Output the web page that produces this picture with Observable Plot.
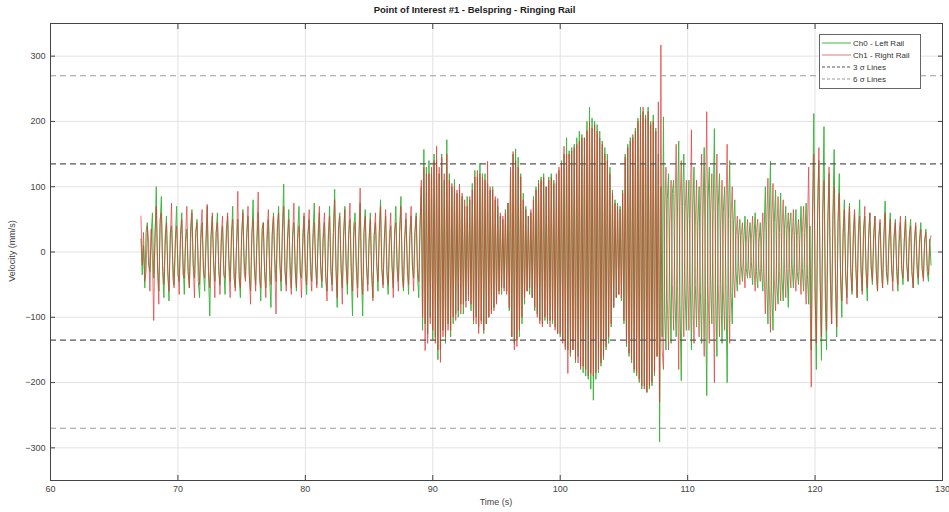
<!DOCTYPE html>
<html><head><meta charset="utf-8">
<script src="https://cdn.jsdelivr.net/npm/d3@7"></script>
<script src="https://cdn.jsdelivr.net/npm/@observablehq/plot@0.6"></script>
<style>
body{margin:0;background:#fff;font-family:"Liberation Sans",Arial,sans-serif}
#wrap{position:relative;width:949px;height:512px;overflow:hidden}
#title{position:absolute;left:0;width:949px;top:4px;text-align:center;font-weight:bold;font-size:9.5px;color:#222}
#xlabel{position:absolute;left:0;width:992px;top:497px;text-align:center;font-size:9px;color:#444}
#ylabel{position:absolute;left:12px;top:251px;font-size:9px;color:#444;transform:translate(-50%,-50%) rotate(-90deg);white-space:nowrap}
#legend{position:absolute;left:819px;top:34px;width:100px;height:53px;border:1px solid #666;background:#fff}
</style></head><body><div id="wrap"><div id="title"></div><div id="xlabel"></div><div id="ylabel"></div><div id="legend"></div></div>
<script>
const chartTitle = "Point of Interest #1 - Belspring - Ringing Rail";
const xLabel = "Time (s)";
const yLabel = "Velocity (mm/s)";
const t0 = 67.1, dt = 0.1;
const ch0 = [
20,-35,10,-55,30,45,-20,-30,25,60,
-40,15,100,-20,-60,40,85,-30,-70,10,
55,-25,-75,30,40,-15,-50,20,70,-35,
-45,25,60,-10,-65,15,35,-30,-55,40,
65,-20,-40,30,50,-45,-70,20,45,-25,
-60,10,70,-35,-98,25,55,-15,-45,30,
60,-30,-50,15,40,-25,-65,35,55,-10,
-45,20,70,-40,-55,10,50,-30,-70,25,
65,-15,-40,30,55,-35,-60,20,80,-25,
-50,15,60,-20,-75,35,45,-30,-55,20,
50,-40,-85,25,60,-10,-45,30,70,-20,
-60,35,104,-30,-50,20,65,-15,-55,25,
45,-20,-60,30,70,-35,-40,10,55,-30,
-65,25,50,-15,-45,30,75,-20,-50,15,
60,-25,-55,20,45,-40,-60,15,70,-30,
-50,30,96,-20,-85,35,60,-25,-55,20,
70,-15,-65,25,50,-30,-98,40,60,-20,
-55,20,75,-35,-98,30,65,-20,-50,15,
60,-30,-70,25,45,-15,-60,30,80,-25,
-50,20,55,-30,-65,15,40,-20,-55,25,
70,-20,-45,30,85,-35,-60,20,50,-15,
-65,25,55,-20,-40,30,60,-35,-70,40,
100,-120,157,-110,130,-125,140,-100,120,-135,
150,-130,140,-165,120,-150,150,-120,110,-140,
172,-110,120,-130,100,-110,111,-95,90,-100,
95,-80,85,-95,70,-75,85,-65,80,-90,
105,-110,125,-100,115,-115,136,-105,120,-125,
120,-110,105,-100,95,-90,100,-85,80,-75,
70,-60,55,-65,50,-55,65,-60,75,-90,
120,-130,150,-140,158,-135,145,-130,120,-110,
90,-80,70,-60,55,-65,60,-70,85,-90,
100,-95,110,-105,115,-110,120,-105,100,-110,
115,-105,120,-110,110,-115,105,-125,125,-130,
140,-135,150,-145,175,-150,155,-160,160,-150,
165,-170,175,-160,185,-175,180,-185,175,-190,
200,-195,222,-210,205,-227,200,-195,195,-185,
185,-175,170,-165,160,-150,150,-140,130,-115,
95,-85,80,-70,75,-65,70,-75,95,-110,
150,-145,165,-160,175,-170,180,-185,190,-190,
205,-200,222,-210,215,-205,210,-215,222,-210,
200,-205,210,-190,190,-160,150,-291,100,-130,
207,-90,-150,80,120,-60,-140,90,110,-70,
-130,60,170,-80,-197,70,150,-60,-120,50,
110,-40,-150,60,130,-50,-115,40,100,-60,
-140,50,160,-70,-220,80,130,-40,-110,60,
189,-60,-160,70,120,-50,-140,60,100,-40,
-200,50,140,-60,-110,40,80,-30,-60,25,
50,-20,-45,15,55,-25,-40,20,45,-15,
-50,20,60,-30,-55,15,45,-25,-60,30,
100,-40,-110,50,139,-60,-120,45,95,-50,
-80,30,90,-40,-75,35,70,-25,-85,40,
60,-20,-55,25,65,-30,-50,20,70,-25,
-60,30,75,-35,-80,40,-150,60,212,-50,
-180,70,140,-50,-166,60,192,-70,-150,50,
120,-40,-110,60,157,-50,-130,45,120,-40,
-100,30,80,-35,-70,25,75,-30,-65,20,
60,-25,-70,30,80,-20,-60,35,55,-30,
-75,25,60,-20,-50,30,55,-25,-60,20,
45,-20,-55,25,78,-30,-50,20,60,-25,
-45,20,50,-30,-60,15,45,-25,-50,20,
55,-20,-45,25,50,-30,-55,15,40,-25,
-50,20,45,-25,-40,15,35,-30,-45,20,-20
];
const ch1 = [
55,-20,30,-45,-30,40,15,-60,35,-10,
-105,30,70,-25,-80,50,60,-20,-50,25,
45,-30,-60,20,75,-40,-55,15,40,-20,
-65,20,50,-35,-40,25,70,-30,-55,15,
60,-25,-70,30,45,-15,-50,35,65,-30,
-40,20,73,-30,-55,25,60,-20,-70,30,
45,-15,-65,25,55,-35,-40,20,60,-25,
-70,30,50,-20,-60,15,93,-40,-55,25,
60,-30,-45,20,70,-35,-80,30,50,-20,
-60,25,92,-40,-55,20,45,-30,-70,35,
65,-20,-50,30,55,-25,-95,40,60,-15,
-45,30,70,-25,-60,20,50,-35,-65,25,
75,-30,-55,20,40,-25,-70,30,60,-20,
-50,25,65,-30,-60,20,45,-15,-55,30,
70,-20,-45,30,60,-35,-75,25,55,-20,
-60,30,80,-25,-70,35,55,-20,-80,30,
65,-25,-50,30,75,-20,-60,25,45,-30,
-70,20,98,-35,-65,30,55,-25,-60,20,
50,-30,-75,25,60,-20,-45,30,70,-25,
-55,20,65,-30,-50,25,60,-20,-70,30,
45,-25,-60,30,70,-20,-55,25,60,-30,
-50,25,70,-20,-60,30,55,-25,-45,40,
110,-100,130,-151,120,-140,120,-110,130,-120,
140,-140,162,-150,130,-169,145,-130,120,-130,
150,-120,110,-120,105,-100,100,-105,95,-90,
104,-95,90,-80,80,-85,70,-75,85,-80,
95,-105,115,-110,125,-125,120,-110,115,-120,
110,-110,139,-100,100,-95,95,-90,85,-80,
82,-65,60,-55,55,-60,60,-65,75,-85,
130,-130,154,-150,140,-145,130,-120,115,-100,
80,-70,65,-60,55,-55,65,-70,80,-85,
95,-100,105,-110,110,-115,115,-100,100,-105,
110,-115,115,-105,105,-120,120,-125,130,-125,
135,-140,162,-150,150,-186,150,-155,155,-150,
160,-165,165,-170,170,-180,175,-175,175,-180,
186,-190,200,-186,190,-190,195,-185,185,-180,
175,-170,165,-160,150,-145,140,-130,120,-110,
90,-85,75,-70,70,-65,65,-70,90,-105,
145,-140,160,-155,170,-165,175,-180,185,-185,
200,-195,210,-205,222,-210,205,-215,215,-205,
195,-200,200,-185,185,-160,230,-230,317,-150,
-180,60,130,-70,-150,40,110,-50,-120,60,
165,-50,-180,70,140,-40,-130,60,110,-30,
-120,50,187,-60,-140,40,110,-50,-130,60,
150,-40,-160,70,215,-50,-140,60,120,-40,
-200,60,150,-50,-130,40,110,-60,-120,50,
165,-40,-140,50,100,-30,-70,25,55,-20,
-50,25,45,-20,-55,15,50,-25,-40,20,
55,-20,-60,30,50,-25,-45,20,60,-30,
-95,40,113,-50,-123,45,105,-40,-90,35,
85,-30,-75,35,80,-25,-70,30,60,-25,
-55,20,65,-30,-60,25,50,-20,-65,30,
70,-25,-80,35,130,-40,-207,50,150,-60,
-140,50,160,-40,-130,60,110,-50,-120,40,
130,-40,-110,50,100,-30,-115,45,90,-35,
-75,25,65,-30,-80,20,70,-25,-60,30,
65,-20,-70,25,55,-30,-65,20,70,-25,
-55,20,60,-25,-45,15,55,-30,-60,25,
50,-25,-55,20,60,-30,-45,15,50,-20,
-60,25,45,-20,-50,30,55,-25,-40,15,
50,-20,-45,25,40,-30,-55,20,45,-15,
-40,15,35,-25,-45,20,30,-20,-35,15,25
];
const sigma3 = [135, -135];
const sigma6 = [270, -270];
const xTicks = [60, 70, 80, 90, 100, 110, 120, 130];
const yTicks = [-300, -200, -100, 0, 100, 200, 300];
const legendLabels = ["Ch0 - Left Rail", "Ch1 - Right Rail", "3 \u03c3 Lines", "6 \u03c3 Lines"];
const colors = {ch0: "#3fb83f", ch1: "#e03a3a", s3: "#555", s6: "#9a9a9a"};

const d0 = ch0.map((v, i) => ({t: t0 + i * dt, v}));
const d1 = ch1.map((v, i) => ({t: t0 + i * dt, v}));

const chart = Plot.plot({
  width: 949, height: 512,
  marginLeft: 50, marginRight: 7, marginTop: 23, marginBottom: 32,
  x: {domain: [60, 130]},
  y: {domain: [-350, 350]},
  style: {fontFamily: "Liberation Sans, Arial, sans-serif", fontSize: "9px", color: "#444", background: "white"},
  marks: [
    Plot.gridX(xTicks, {stroke: "#e2e2e2", strokeOpacity: 1}),
    Plot.gridY(yTicks, {stroke: "#e2e2e2", strokeOpacity: 1}),
    Plot.line(d0, {x: "t", y: "v", stroke: colors.ch0, strokeWidth: 1}),
    Plot.line(d1, {x: "t", y: "v", stroke: colors.ch1, strokeWidth: 1, strokeOpacity: 0.7}),
    Plot.ruleY(sigma3, {stroke: colors.s3, strokeDasharray: "6,4", strokeWidth: 1.2}),
    Plot.ruleY(sigma6, {stroke: colors.s6, strokeDasharray: "6,4", strokeWidth: 1.2}),
    Plot.axisX(xTicks, {anchor: "bottom", tickSize: 0, tickPadding: 5, label: null}),
    Plot.axisX(xTicks, {anchor: "bottom", tickSize: 5, dy: -5, tickFormat: () => "", label: null, stroke: "#444"}),
    Plot.axisX(xTicks, {anchor: "top", tickSize: 5, dy: 5, tickFormat: () => "", label: null, stroke: "#444"}),
    Plot.axisY(yTicks, {anchor: "left", tickSize: 0, tickPadding: 5, label: null}),
    Plot.axisY(yTicks, {anchor: "left", tickSize: 5, dx: 5, tickFormat: () => "", label: null, stroke: "#444"}),
    Plot.axisY(yTicks, {anchor: "right", tickSize: 5, dx: -5, tickFormat: () => "", label: null, stroke: "#444"}),
    Plot.frame({stroke: "#444"})
  ]
});
const wrap = document.getElementById("wrap");
wrap.insertBefore(chart, wrap.firstChild);
chart.style.position = "absolute"; chart.style.left = "0"; chart.style.top = "0";
document.getElementById("title").textContent = chartTitle;
document.getElementById("xlabel").textContent = xLabel;
document.getElementById("ylabel").textContent = yLabel;

const lg = d3.select("#legend").append("svg").attr("width", 100).attr("height", 53)
  .style("font-family", "Liberation Sans, Arial, sans-serif").style("font-size", "8px");
const legendStyles = [
  {c: colors.ch0, dash: null}, {c: colors.ch1, dash: null, o: 0.7},
  {c: colors.s3, dash: "3,2"}, {c: colors.s6, dash: "3,2"}
];
legendLabels.forEach((lab, i) => {
  const y = 8 + i * 12;
  lg.append("line").attr("x1", 2).attr("x2", 31).attr("y1", y).attr("y2", y)
    .attr("stroke", legendStyles[i].c).attr("stroke-opacity", legendStyles[i].o || 1)
    .attr("stroke-dasharray", legendStyles[i].dash);
  lg.append("text").attr("x", 33).attr("y", y).attr("dy", "0.35em").attr("fill", "#333").text(lab);
});
</script></body></html>
